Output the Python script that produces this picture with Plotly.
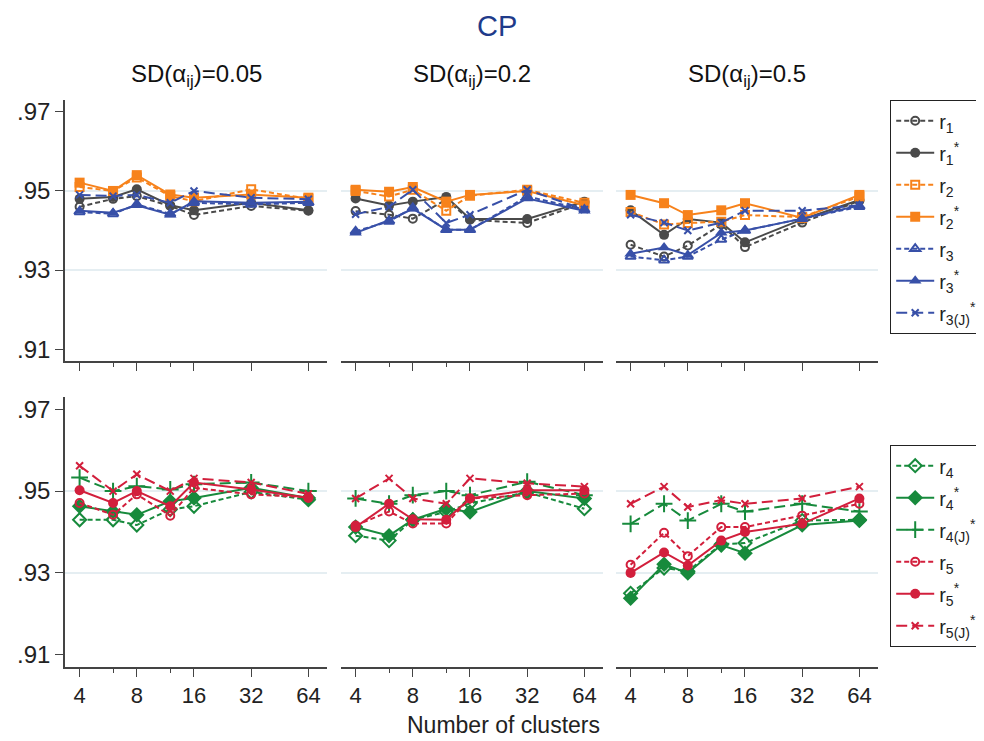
import plotly.graph_objects as go

# ---------------- data ----------------
clusters = [4, 6, 8, 12, 16, 32, 64]
sd_labels = ["0.05", "0.2", "0.5"]
x_ticks = [4, 8, 16, 32, 64]
x_ticktext = ["4", "8", "16", "32", "64"]
minor_ticks = [6, 12]
y_ticks = [0.91, 0.93, 0.95, 0.97]
y_ticktext = [".91", ".93", ".95", ".97"]
ref_lines = [0.93, 0.95]

# top row (one list per SD panel)
r1 = [[.946, .948, .9487, .9462, .9439, .9462, .945],
      [.9449, .944, .943, .9478, .9427, .9419, .947],
      [.9364, .9334, .9362, .9415, .9358, .942, .9475]]
r1s = [[.948, .9485, .9504, .9464, .9451, .947, .9451],
       [.9481, .9463, .9473, .9485, .9429, .9429, .9473],
       [.9451, .9389, .9429, .942, .937, .9428, .9477]]
r2 = [[.951, .950, .9534, .9487, .9474, .9504, .948],
      [.950, .9486, .9503, .945, .9488, .9503, .947],
      [.9447, .9415, .9419, .9422, .9439, .9434, .9486]]
r2s = [[.9521, .950, .954, .9491, .9483, .9491, .9483],
       [.9503, .9498, .951, .9473, .949, .950, .9464],
       [.949, .9469, .9439, .9451, .9469, .9432, .949]]
r3 = [[.9447, .9442, .9466, .9442, .947, .9466, .947],
      [.9398, .9423, .9457, .9402, .9402, .9486, .9453],
      [.9334, .9325, .9334, .9377, .940, .943, .946]]
r3s = [[.945, .9445, .9464, .944, .9474, .947, .9473],
       [.9394, .9426, .9455, .9402, .9402, .9481, .945],
       [.9341, .9357, .9338, .9394, .940, .943, .9463]]
r3j = [[.949, .9487, .949, .947, .950, .9483, .9479],
       [.9441, .946, .9503, .9419, .944, .9503, .9453],
       [.944, .942, .940, .942, .945, .945, .9464]]

# bottom row
r4 = [[.943, .943, .9417, .9455, .9463, .9498, .9479],
      [.9391, .9379, .943, .9449, .947, .9497, .9457],
      [.925, .9312, .9304, .937, .9373, .9428, .943]]
r4s = [[.9463, .945, .9442, .9475, .9483, .9508, .9483],
       [.9412, .9391, .943, .9457, .9449, .950, .9482],
       [.9238, .9321, .930, .9368, .9348, .9417, .9428]]
r4j = [[.9533, .950, .9512, .9504, .9517, .9521, .950],
       [.9482, .9469, .949, .950, .949, .9523, .949],
       [.942, .9469, .9428, .9469, .945, .9469, .945]]
r5 = [[.9471, .9442, .9492, .944, .9508, .9492, .9485],
      [.9416, .945, .9421, .9421, .9482, .949, .9494],
      [.932, .9398, .9341, .9412, .9412, .944, .9469]]
r5s = [[.9502, .9471, .950, .9463, .9521, .9504, .9483],
       [.9412, .9469, .9431, .943, .9482, .9502, .9502],
       [.930, .935, .9318, .9379, .940, .942, .9482]]
r5j = [[.9562, .950, .9541, .950, .9531, .9521, .9493],
       [.9482, .9531, .9482, .9469, .9531, .9519, .9511],
       [.9469, .9511, .9461, .9478, .9469, .9482, .9511]]

# ---------------- styles ----------------
GRAY = "#4a4a4a"
ORANGE = "#f7821b"
BLUE = "#3850a8"
GREEN = "#178a3c"
RED = "#d21f3c"
SHORT = "5px,3px"
LONG = "11px,5px"

top_series = [
    ("r<sub>1</sub>", r1, GRAY, "circle-open", SHORT, 8),
    ("r<sub>1</sub><sup>*</sup>", r1s, GRAY, "circle", "solid", 10),
    ("r<sub>2</sub>", r2, ORANGE, "square-open", SHORT, 8),
    ("r<sub>2</sub><sup>*</sup>", r2s, ORANGE, "square", "solid", 10),
    ("r<sub>3</sub>", r3, BLUE, "triangle-up-open", SHORT, 9),
    ("r<sub>3</sub><sup>*</sup>", r3s, BLUE, "triangle-up", "solid", 11),
    ("r<sub>3(J)</sub><sup>*</sup>", r3j, BLUE, "x-thin-open", LONG, 7),
]
bottom_series = [
    ("r<sub>4</sub>", r4, GREEN, "diamond-open", SHORT, 10),
    ("r<sub>4</sub><sup>*</sup>", r4s, GREEN, "diamond", "solid", 12),
    ("r<sub>4(J)</sub><sup>*</sup>", r4j, GREEN, "cross-thin-open", LONG, 12),
    ("r<sub>5</sub>", r5, RED, "circle-open", SHORT, 8),
    ("r<sub>5</sub><sup>*</sup>", r5s, RED, "circle", "solid", 10),
    ("r<sub>5(J)</sub><sup>*</sup>", r5j, RED, "x-thin-open", LONG, 7),
]

W, H = 984, 741
panel_left = [57, 333, 608]
panel_w = 262
row_top = [(92, 353), (389, 659)]  # pixel top/bottom of plot area
xrange_log = [0.5252, 1.9042]
yrange = [0.907, 0.973]
FONT = "Liberation Sans, Arial, sans-serif"
AXC = "#444444"

fig = go.Figure()
layout = {}
shapes = []
annotations = []

for row, series in enumerate([top_series, bottom_series]):
    for p in range(3):
        idx = row * 3 + p + 1
        xa = "x" if idx == 1 else f"x{idx}"
        ya = "y" if idx == 1 else f"y{idx}"
        legend_name = "legend" if row == 0 else "legend2"
        for k, (name, vals, color, sym, dash, msize) in enumerate(series):
            open_sym = sym.endswith("open")
            fig.add_trace(go.Scatter(
                x=clusters, y=vals[p], xaxis=xa, yaxis=ya,
                mode="lines+markers", name=name,
                legend=legend_name, legendgroup=f"g{row}_{k}",
                showlegend=(p == 0),
                line=dict(color=color, width=2, dash=dash),
                marker=dict(symbol=sym, size=msize, color=color,
                            line=dict(color=color, width=2 if open_sym else 0)),
            ))
        t, b = row_top[row]
        layout["xaxis" if idx == 1 else f"xaxis{idx}"] = dict(
            type="log", range=xrange_log,
            domain=[panel_left[p] / W, (panel_left[p] + panel_w) / W],
            anchor=ya, showline=True, linecolor=AXC, linewidth=1.5,
            ticks="outside", ticklen=8, tickcolor=AXC, tickwidth=1.2,
            tickvals=x_ticks, ticktext=x_ticktext,
            showticklabels=(row == 1), showgrid=False, zeroline=False,
            tickfont=dict(family=FONT, size=22, color="#222"),
            minor=dict(tickvals=minor_ticks, ticks="outside", ticklen=4,
                       tickcolor=AXC, tickwidth=1.2, showgrid=False),
            automargin=False, fixedrange=True,
        )
        layout["yaxis" if idx == 1 else f"yaxis{idx}"] = dict(
            range=yrange, domain=[1 - b / H, 1 - t / H], anchor=xa,
            showline=(p == 0), linecolor=AXC, linewidth=1.5,
            ticks="outside" if p == 0 else "", ticklen=8, tickcolor=AXC,
            tickwidth=1.2, tickvals=y_ticks, ticktext=y_ticktext,
            showticklabels=(p == 0), showgrid=False, zeroline=False,
            tickfont=dict(family=FONT, size=24, color="#222"),
            automargin=False, fixedrange=True,
        )
        for v in ref_lines:
            shapes.append(dict(type="line", xref=f"{xa} domain", yref=ya,
                               x0=0, x1=1, y0=v, y1=v, layer="below",
                               line=dict(color="#dde9ee", width=1.5)))

for p in range(3):
    annotations.append(dict(
        text=f"SD(α<sub>ij</sub>)={sd_labels[p]}", showarrow=False,
        xref="paper", yref="paper",
        x=(panel_left[p] + panel_w / 2) / W, y=1 - 68 / H,
        xanchor="center", yanchor="middle",
        font=dict(family=FONT, size=24, color="#111")))

annotations.append(dict(text="CP", showarrow=False, xref="paper", yref="paper",
                        x=489 / W, y=1 - 18 / H, xanchor="center", yanchor="middle",
                        font=dict(family=FONT, size=29, color="#1f3b8a")))
annotations.append(dict(text="Number of clusters", showarrow=False,
                        xref="paper", yref="paper",
                        x=495 / W, y=1 - 717 / H, xanchor="center", yanchor="middle",
                        font=dict(family=FONT, size=23, color="#222")))

legend_common = dict(
    xanchor="left", yanchor="top", bgcolor="white",
    bordercolor="#222", borderwidth=1.2,
    font=dict(family=FONT, size=20, color="#222"),
    traceorder="grouped", tracegroupgap=3, itemwidth=38,
)

fig.update_layout(
    width=W, height=H,
    margin=dict(l=0, r=0, t=0, b=0),
    paper_bgcolor="white", plot_bgcolor="white",
    shapes=shapes, annotations=annotations,
    legend=dict(x=882 / W, y=1 - 92 / H, **legend_common),
    legend2=dict(x=882 / W, y=1 - 437 / H, **legend_common),
    hovermode=False,
    **layout,
)

fig.write_html("out.html")
